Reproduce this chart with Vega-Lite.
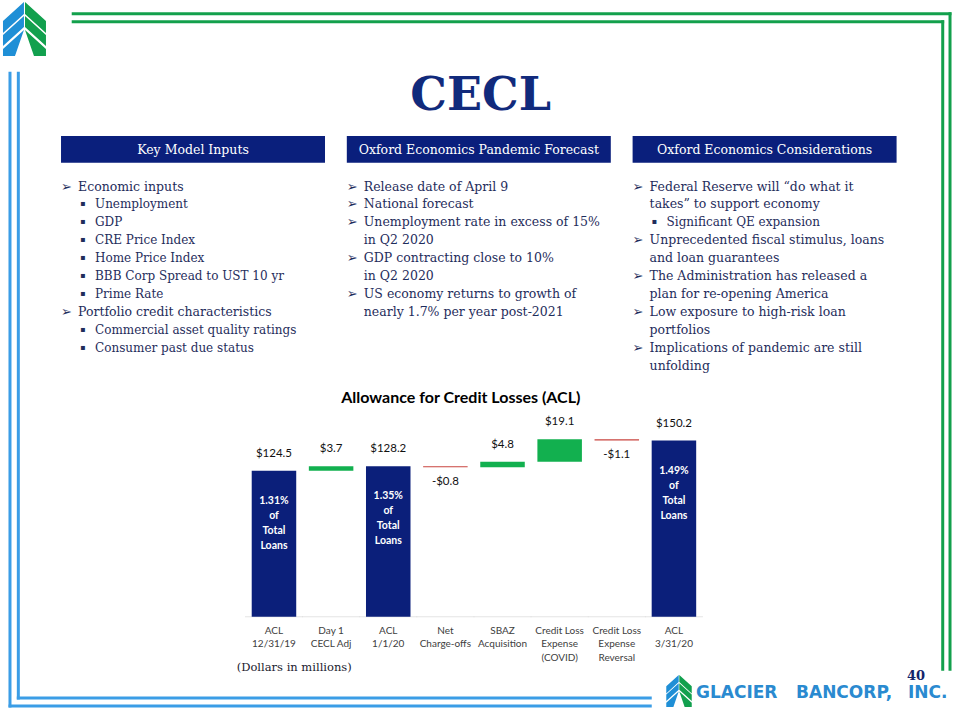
{
  "$schema": "https://vega.github.io/schema/vega-lite/v6.json",
  "width": 960,
  "height": 720,
  "autosize": {"type": "fit", "contains": "padding"},
  "padding": 0,
  "background": "white",
  "config": {"view": {"stroke": null}},
  "datasets": {
    "panels": [
      {"panel": "Key Model Inputs"},
      {"panel": "Oxford Economics Pandemic Forecast"},
      {"panel": "Oxford Economics Considerations"}
    ],
    "bullets": [
      {"panel": "Key Model Inputs", "line": 0, "level": 1, "bullet": "➢", "text": "Economic inputs"},
      {"panel": "Key Model Inputs", "line": 1, "level": 2, "bullet": "▪", "text": "Unemployment"},
      {"panel": "Key Model Inputs", "line": 2, "level": 2, "bullet": "▪", "text": "GDP"},
      {"panel": "Key Model Inputs", "line": 3, "level": 2, "bullet": "▪", "text": "CRE  Price Index"},
      {"panel": "Key Model Inputs", "line": 4, "level": 2, "bullet": "▪", "text": "Home Price Index"},
      {"panel": "Key Model Inputs", "line": 5, "level": 2, "bullet": "▪", "text": "BBB Corp Spread  to UST 10 yr"},
      {"panel": "Key Model Inputs", "line": 6, "level": 2, "bullet": "▪", "text": "Prime Rate"},
      {"panel": "Key Model Inputs", "line": 7, "level": 1, "bullet": "➢", "text": "Portfolio credit characteristics"},
      {"panel": "Key Model Inputs", "line": 8, "level": 2, "bullet": "▪", "text": "Commercial asset quality ratings"},
      {"panel": "Key Model Inputs", "line": 9, "level": 2, "bullet": "▪", "text": "Consumer past due status"},
      {"panel": "Oxford Economics Pandemic Forecast", "line": 0, "level": 1, "bullet": "➢", "text": "Release date of April 9"},
      {"panel": "Oxford Economics Pandemic Forecast", "line": 1, "level": 1, "bullet": "➢", "text": "National forecast"},
      {"panel": "Oxford Economics Pandemic Forecast", "line": 2, "level": 1, "bullet": "➢", "text": "Unemployment rate in excess of 15%"},
      {"panel": "Oxford Economics Pandemic Forecast", "line": 3, "level": 1, "bullet": "", "text": "in Q2 2020"},
      {"panel": "Oxford Economics Pandemic Forecast", "line": 4, "level": 1, "bullet": "➢", "text": "GDP contracting close to 10%"},
      {"panel": "Oxford Economics Pandemic Forecast", "line": 5, "level": 1, "bullet": "", "text": "in Q2 2020"},
      {"panel": "Oxford Economics Pandemic Forecast", "line": 6, "level": 1, "bullet": "➢", "text": "US economy returns to growth of"},
      {"panel": "Oxford Economics Pandemic Forecast", "line": 7, "level": 1, "bullet": "", "text": "nearly 1.7% per year post-2021"},
      {"panel": "Oxford Economics Considerations", "line": 0, "level": 1, "bullet": "➢", "text": "Federal Reserve will “do what it"},
      {"panel": "Oxford Economics Considerations", "line": 1, "level": 1, "bullet": "", "text": "takes” to support economy"},
      {"panel": "Oxford Economics Considerations", "line": 2, "level": 2, "bullet": "▪", "text": "Significant QE expansion"},
      {"panel": "Oxford Economics Considerations", "line": 3, "level": 1, "bullet": "➢", "text": "Unprecedented fiscal stimulus, loans"},
      {"panel": "Oxford Economics Considerations", "line": 4, "level": 1, "bullet": "", "text": "and loan guarantees"},
      {"panel": "Oxford Economics Considerations", "line": 5, "level": 1, "bullet": "➢", "text": "The Administration  has released  a"},
      {"panel": "Oxford Economics Considerations", "line": 6, "level": 1, "bullet": "", "text": "plan for re-opening America"},
      {"panel": "Oxford Economics Considerations", "line": 7, "level": 1, "bullet": "➢", "text": "Low exposure to high-risk loan"},
      {"panel": "Oxford Economics Considerations", "line": 8, "level": 1, "bullet": "", "text": "portfolios"},
      {"panel": "Oxford Economics Considerations", "line": 9, "level": 1, "bullet": "➢", "text": "Implications of pandemic are still"},
      {"panel": "Oxford Economics Considerations", "line": 10, "level": 1, "bullet": "", "text": "unfolding"}
    ],
    "acl": [
      {"category": "ACL|12/31/19", "kind": "Total", "start": 0, "end": 124.5, "label": "$124.5", "note": "1.31%\nof\nTotal\nLoans"},
      {"category": "Day 1|CECL Adj", "kind": "Increase", "start": 124.5, "end": 128.2, "label": "$3.7", "note": ""},
      {"category": "ACL|1/1/20", "kind": "Total", "start": 0, "end": 128.2, "label": "$128.2", "note": "1.35%\nof\nTotal\nLoans"},
      {"category": "Net|Charge-offs", "kind": "Decrease", "start": 128.2, "end": 127.4, "label": "-$0.8", "note": ""},
      {"category": "SBAZ|Acquisition", "kind": "Increase", "start": 127.4, "end": 132.2, "label": "$4.8", "note": ""},
      {"category": "Credit Loss|Expense|(COVID)", "kind": "Increase", "start": 132.2, "end": 151.3, "label": "$19.1", "note": ""},
      {"category": "Credit Loss|Expense|Reversal", "kind": "Decrease", "start": 151.3, "end": 150.2, "label": "-$1.1", "note": ""},
      {"category": "ACL|3/31/20", "kind": "Total", "start": 0, "end": 150.2, "label": "$150.2", "note": "1.49%\nof\nTotal\nLoans"}
    ]
  },
  "resolve": {"scale": {"x": "independent", "y": "independent"}},
  "layer": [
    {
      "data": {"values": [{}]},
      "layer": [
        {"mark": {"type": "rule", "color": "#13a04c", "strokeWidth": 3},
         "encoding": {"x": {"datum": 0.747, "type": "quantitative", "scale": {"domain": [0, 10], "nice": false, "zero": false}, "axis": null}, "x2": {"datum": 9.911},
                      "y": {"datum": 0.144, "type": "quantitative", "scale": {"domain": [0, 7.5], "nice": false, "zero": false, "reverse": true}, "axis": null}}},
        {"mark": {"type": "rule", "color": "#13a04c", "strokeWidth": 3},
         "encoding": {"x": {"datum": 0.747, "type": "quantitative", "scale": {"domain": [0, 10], "nice": false, "zero": false}, "axis": null}, "x2": {"datum": 9.835},
                      "y": {"datum": 0.227, "type": "quantitative", "scale": {"domain": [0, 7.5], "nice": false, "zero": false, "reverse": true}, "axis": null}}},
        {"mark": {"type": "rule", "color": "#13a04c", "strokeWidth": 3},
         "encoding": {"x": {"datum": 9.896, "type": "quantitative", "scale": {"domain": [0, 10], "nice": false, "zero": false}, "axis": null},
                      "y": {"datum": 0.128, "type": "quantitative", "scale": {"domain": [0, 7.5], "nice": false, "zero": false, "reverse": true}, "axis": null}, "y2": {"datum": 6.986}}},
        {"mark": {"type": "rule", "color": "#13a04c", "strokeWidth": 3},
         "encoding": {"x": {"datum": 9.82, "type": "quantitative", "scale": {"domain": [0, 10], "nice": false, "zero": false}, "axis": null},
                      "y": {"datum": 0.211, "type": "quantitative", "scale": {"domain": [0, 7.5], "nice": false, "zero": false, "reverse": true}, "axis": null}, "y2": {"datum": 6.986}}},
        {"mark": {"type": "rule", "color": "#3b9de6", "strokeWidth": 3},
         "encoding": {"x": {"datum": 0.104, "type": "quantitative", "scale": {"domain": [0, 10], "nice": false, "zero": false}, "axis": null},
                      "y": {"datum": 0.747, "type": "quantitative", "scale": {"domain": [0, 7.5], "nice": false, "zero": false, "reverse": true}, "axis": null}, "y2": {"datum": 7.37}}},
        {"mark": {"type": "rule", "color": "#3b9de6", "strokeWidth": 3},
         "encoding": {"x": {"datum": 0.191, "type": "quantitative", "scale": {"domain": [0, 10], "nice": false, "zero": false}, "axis": null},
                      "y": {"datum": 0.747, "type": "quantitative", "scale": {"domain": [0, 7.5], "nice": false, "zero": false, "reverse": true}, "axis": null}, "y2": {"datum": 7.286}}},
        {"mark": {"type": "rule", "color": "#3b9de6", "strokeWidth": 3},
         "encoding": {"x": {"datum": 0.089, "type": "quantitative", "scale": {"domain": [0, 10], "nice": false, "zero": false}, "axis": null}, "x2": {"datum": 6.789},
                      "y": {"datum": 7.354, "type": "quantitative", "scale": {"domain": [0, 7.5], "nice": false, "zero": false, "reverse": true}, "axis": null}}},
        {"mark": {"type": "rule", "color": "#3b9de6", "strokeWidth": 3},
         "encoding": {"x": {"datum": 0.175, "type": "quantitative", "scale": {"domain": [0, 10], "nice": false, "zero": false}, "axis": null}, "x2": {"datum": 6.789},
                      "y": {"datum": 7.271, "type": "quantitative", "scale": {"domain": [0, 7.5], "nice": false, "zero": false, "reverse": true}, "axis": null}}},
        {"mark": {"type": "point", "shape": "M -0.019 -1 L -0.796 -0.296 L -0.796 0.148 L -0.019 -0.556 Z M -0.019 -0.481 L -0.796 0.222 L -0.796 0.63 L -0.019 -0.074 Z M -0.019 0.037 L -0.352 1 L -0.796 1 L -0.796 0.741 Z", "filled": true, "color": "#1f8fd6", "opacity": 1, "size": 2916, "strokeWidth": 0},
         "encoding": {"x": {"datum": 0.255, "type": "quantitative", "scale": {"domain": [0, 10], "nice": false, "zero": false}, "axis": null},
                      "y": {"datum": 0.302, "type": "quantitative", "scale": {"domain": [0, 7.5], "nice": false, "zero": false, "reverse": true}, "axis": null}}},
        {"mark": {"type": "point", "shape": "M 0.019 -1 L 0.796 -0.296 L 0.796 0.148 L 0.019 -0.556 Z M 0.019 -0.481 L 0.796 0.222 L 0.796 0.63 L 0.019 -0.074 Z M 0.019 0.037 L 0.352 1 L 0.796 1 L 0.796 0.741 Z", "filled": true, "color": "#12a04e", "opacity": 1, "size": 2916, "strokeWidth": 0},
         "encoding": {"x": {"datum": 0.255, "type": "quantitative", "scale": {"domain": [0, 10], "nice": false, "zero": false}, "axis": null},
                      "y": {"datum": 0.302, "type": "quantitative", "scale": {"domain": [0, 7.5], "nice": false, "zero": false, "reverse": true}, "axis": null}}},
        {"mark": {"type": "point", "shape": "M -0.019 -1 L -0.796 -0.296 L -0.796 0.148 L -0.019 -0.556 Z M -0.019 -0.481 L -0.796 0.222 L -0.796 0.63 L -0.019 -0.074 Z M -0.019 0.037 L -0.352 1 L -0.796 1 L -0.796 0.741 Z", "filled": true, "color": "#1f8fd6", "opacity": 1, "size": 1024, "strokeWidth": 0},
         "encoding": {"x": {"datum": 7.073, "type": "quantitative", "scale": {"domain": [0, 10], "nice": false, "zero": false}, "axis": null},
                      "y": {"datum": 7.198, "type": "quantitative", "scale": {"domain": [0, 7.5], "nice": false, "zero": false, "reverse": true}, "axis": null}}},
        {"mark": {"type": "point", "shape": "M 0.019 -1 L 0.796 -0.296 L 0.796 0.148 L 0.019 -0.556 Z M 0.019 -0.481 L 0.796 0.222 L 0.796 0.63 L 0.019 -0.074 Z M 0.019 0.037 L 0.352 1 L 0.796 1 L 0.796 0.741 Z", "filled": true, "color": "#12a04e", "opacity": 1, "size": 1024, "strokeWidth": 0},
         "encoding": {"x": {"datum": 7.073, "type": "quantitative", "scale": {"domain": [0, 10], "nice": false, "zero": false}, "axis": null},
                      "y": {"datum": 7.198, "type": "quantitative", "scale": {"domain": [0, 7.5], "nice": false, "zero": false, "reverse": true}, "axis": null}}},
        {"mark": {"type": "text", "text": "CECL", "font": "DejaVu Serif", "fontWeight": "bold", "fontSize": 46, "color": "#112a7c", "align": "center", "baseline": "alphabetic"},
         "encoding": {"x": {"datum": 5.007, "type": "quantitative", "scale": {"domain": [0, 10], "nice": false, "zero": false}, "axis": null},
                      "y": {"datum": 1.146, "type": "quantitative", "scale": {"domain": [0, 7.5], "nice": false, "zero": false, "reverse": true}, "axis": null}}},
        {"mark": {"type": "text", "text": "Allowance for Credit Losses (ACL)", "font": "Lato", "fontWeight": "bold", "fontSize": 16, "color": "#000000", "align": "center", "baseline": "alphabetic"},
         "encoding": {"x": {"datum": 4.8, "type": "quantitative", "scale": {"domain": [0, 10], "nice": false, "zero": false}, "axis": null},
                      "y": {"datum": 4.193, "type": "quantitative", "scale": {"domain": [0, 7.5], "nice": false, "zero": false, "reverse": true}, "axis": null}}},
        {"mark": {"type": "text", "text": "(Dollars in millions)", "font": "DejaVu Serif", "fontSize": 11.5, "color": "#1a1a2e", "align": "left", "baseline": "middle"},
         "encoding": {"x": {"datum": 2.466, "type": "quantitative", "scale": {"domain": [0, 10], "nice": false, "zero": false}, "axis": null},
                      "y": {"datum": 6.961, "type": "quantitative", "scale": {"domain": [0, 7.5], "nice": false, "zero": false, "reverse": true}, "axis": null}}},
        {"mark": {"type": "text", "text": "40", "font": "DejaVu Serif", "fontWeight": "bold", "fontSize": 13, "color": "#14246b", "align": "center", "baseline": "middle"},
         "encoding": {"x": {"datum": 9.542, "type": "quantitative", "scale": {"domain": [0, 10], "nice": false, "zero": false}, "axis": null},
                      "y": {"datum": 7.042, "type": "quantitative", "scale": {"domain": [0, 7.5], "nice": false, "zero": false, "reverse": true}, "axis": null}}},
        {"mark": {"type": "text", "text": "GLACIER", "font": "DejaVu Sans", "fontWeight": "bold", "fontSize": 17, "color": "#2a8ad0", "align": "left", "baseline": "middle"},
         "encoding": {"x": {"datum": 7.25, "type": "quantitative", "scale": {"domain": [0, 10], "nice": false, "zero": false}, "axis": null},
                      "y": {"datum": 7.219, "type": "quantitative", "scale": {"domain": [0, 7.5], "nice": false, "zero": false, "reverse": true}, "axis": null}}},
        {"mark": {"type": "text", "text": "BANCORP,", "font": "DejaVu Sans", "fontWeight": "bold", "fontSize": 17, "color": "#2a8ad0", "align": "left", "baseline": "middle"},
         "encoding": {"x": {"datum": 8.292, "type": "quantitative", "scale": {"domain": [0, 10], "nice": false, "zero": false}, "axis": null},
                      "y": {"datum": 7.219, "type": "quantitative", "scale": {"domain": [0, 7.5], "nice": false, "zero": false, "reverse": true}, "axis": null}}},
        {"mark": {"type": "text", "text": "INC.", "font": "DejaVu Sans", "fontWeight": "bold", "fontSize": 17, "color": "#2a8ad0", "align": "left", "baseline": "middle"},
         "encoding": {"x": {"datum": 9.458, "type": "quantitative", "scale": {"domain": [0, 10], "nice": false, "zero": false}, "axis": null},
                      "y": {"datum": 7.219, "type": "quantitative", "scale": {"domain": [0, 7.5], "nice": false, "zero": false, "reverse": true}, "axis": null}}}
      ]
    },
    {
      "data": {"name": "bullets"},
      "layer": [
        {"data": {"name": "panels"},
         "mark": {"type": "rect", "color": "#0a1f7c"},
         "encoding": {
           "x": {"field": "panel", "type": "nominal", "scale": {"domain": ["Key Model Inputs", "Oxford Economics Pandemic Forecast", "Oxford Economics Considerations"], "paddingInner": 0.0763, "paddingOuter": 0.2177, "align": 0.4904}, "axis": null},
           "y": {"datum": -2.821, "type": "quantitative", "scale": {"domain": [-10.419, 29.804], "nice": false, "zero": false, "reverse": true}, "axis": null},
           "y2": {"datum": -1.33}}},
        {"data": {"name": "panels"},
         "mark": {"type": "text", "color": "#ffffff", "font": "DejaVu Serif", "fontSize": 12.5, "align": "center", "baseline": "middle"},
         "encoding": {
           "x": {"field": "panel", "type": "nominal", "scale": {"domain": ["Key Model Inputs", "Oxford Economics Pandemic Forecast", "Oxford Economics Considerations"], "paddingInner": 0.0763, "paddingOuter": 0.2177, "align": 0.4904}, "axis": null},
           "y": {"datum": -2.067, "type": "quantitative", "scale": {"domain": [-10.419, 29.804], "nice": false, "zero": false, "reverse": true}, "axis": null},
           "text": {"field": "panel"}}},
        {"transform": [{"filter": "datum.level == 1"}],
         "mark": {"type": "text", "color": "#1f2d5c", "font": "DejaVu Sans", "fontWeight": "bold", "fontSize": 13, "align": "left", "baseline": "middle", "dx": 0},
         "encoding": {
           "x": {"field": "panel", "type": "nominal", "bandPosition": 0, "scale": {"domain": ["Key Model Inputs", "Oxford Economics Pandemic Forecast", "Oxford Economics Considerations"], "paddingInner": 0.0763, "paddingOuter": 0.2177, "align": 0.4904}, "axis": null},
           "y": {"field": "line", "type": "quantitative", "scale": {"domain": [-10.419, 29.804], "nice": false, "zero": false, "reverse": true}, "axis": null},
           "text": {"field": "bullet"}}},
        {"transform": [{"filter": "datum.level == 1"}],
         "mark": {"type": "text", "color": "#1f2d5c", "font": "DejaVu Serif", "fontSize": 12.5, "align": "left", "baseline": "middle", "dx": 17},
         "encoding": {
           "x": {"field": "panel", "type": "nominal", "bandPosition": 0, "scale": {"domain": ["Key Model Inputs", "Oxford Economics Pandemic Forecast", "Oxford Economics Considerations"], "paddingInner": 0.0763, "paddingOuter": 0.2177, "align": 0.4904}, "axis": null},
           "y": {"field": "line", "type": "quantitative", "scale": {"domain": [-10.419, 29.804], "nice": false, "zero": false, "reverse": true}, "axis": null},
           "text": {"field": "text"}}},
        {"transform": [{"filter": "datum.level == 2"}],
         "mark": {"type": "text", "color": "#1f2d5c", "font": "DejaVu Sans", "fontSize": 8, "align": "left", "baseline": "middle", "dx": 19},
         "encoding": {
           "x": {"field": "panel", "type": "nominal", "bandPosition": 0, "scale": {"domain": ["Key Model Inputs", "Oxford Economics Pandemic Forecast", "Oxford Economics Considerations"], "paddingInner": 0.0763, "paddingOuter": 0.2177, "align": 0.4904}, "axis": null},
           "y": {"field": "line", "type": "quantitative", "scale": {"domain": [-10.419, 29.804], "nice": false, "zero": false, "reverse": true}, "axis": null},
           "text": {"field": "bullet"}}},
        {"transform": [{"filter": "datum.level == 2"}],
         "mark": {"type": "text", "color": "#1f2d5c", "font": "DejaVu Serif", "fontSize": 12, "align": "left", "baseline": "middle", "dx": 34},
         "encoding": {
           "x": {"field": "panel", "type": "nominal", "bandPosition": 0, "scale": {"domain": ["Key Model Inputs", "Oxford Economics Pandemic Forecast", "Oxford Economics Considerations"], "paddingInner": 0.0763, "paddingOuter": 0.2177, "align": 0.4904}, "axis": null},
           "y": {"field": "line", "type": "quantitative", "scale": {"domain": [-10.419, 29.804], "nice": false, "zero": false, "reverse": true}, "axis": null},
           "text": {"field": "text"}}}
      ]
    },
    {
      "data": {"name": "acl"},
      "layer": [
        {"mark": {"type": "tick", "color": "#d9d9d9", "thickness": 1, "size": 58, "orient": "horizontal"},
         "encoding": {
           "x": {"field": "category", "type": "nominal", "scale": {"domain": ["ACL|12/31/19", "Day 1|CECL Adj", "ACL|1/1/20", "Net|Charge-offs", "SBAZ|Acquisition", "Credit Loss|Expense|(COVID)", "Credit Loss|Expense|Reversal", "ACL|3/31/20"], "range": [245.4, 702.5], "paddingInner": 0.221, "paddingOuter": 0.1105}, "axis": null},
           "y": {"datum": 0, "type": "quantitative", "scale": {"domain": [-88.06, 525.8], "nice": false, "zero": false}, "axis": null}}},
        {"mark": {"type": "bar"},
         "encoding": {
           "x": {"field": "category", "type": "nominal", "scale": {"domain": ["ACL|12/31/19", "Day 1|CECL Adj", "ACL|1/1/20", "Net|Charge-offs", "SBAZ|Acquisition", "Credit Loss|Expense|(COVID)", "Credit Loss|Expense|Reversal", "ACL|3/31/20"], "range": [245.4, 702.5], "paddingInner": 0.221, "paddingOuter": 0.1105}, "axis": null},
           "y": {"field": "start", "type": "quantitative", "scale": {"domain": [-88.06, 525.8], "nice": false, "zero": false}, "axis": null},
           "y2": {"field": "end"},
           "color": {"field": "kind", "type": "nominal", "scale": {"domain": ["Total", "Increase", "Decrease"], "range": ["#0b1f7a", "#12b04f", "#c9453f"]}, "legend": null}}},
        {"mark": {"type": "text", "font": "Lato", "fontSize": 10, "color": "#404040", "align": "center", "baseline": "top", "lineBreak": "|", "lineHeight": 13.5, "dy": 9},
         "encoding": {
           "x": {"field": "category", "type": "nominal", "scale": {"domain": ["ACL|12/31/19", "Day 1|CECL Adj", "ACL|1/1/20", "Net|Charge-offs", "SBAZ|Acquisition", "Credit Loss|Expense|(COVID)", "Credit Loss|Expense|Reversal", "ACL|3/31/20"], "range": [245.4, 702.5], "paddingInner": 0.221, "paddingOuter": 0.1105}, "axis": null},
           "y": {"datum": 0, "type": "quantitative", "scale": {"domain": [-88.06, 525.8], "nice": false, "zero": false}, "axis": null},
           "text": {"field": "category"}}},
        {"transform": [{"filter": "datum.kind != 'Decrease'"}],
         "mark": {"type": "text", "font": "Lato", "fontSize": 11.5, "color": "#111111", "align": "center", "baseline": "middle", "dy": -17},
         "encoding": {
           "x": {"field": "category", "type": "nominal", "scale": {"domain": ["ACL|12/31/19", "Day 1|CECL Adj", "ACL|1/1/20", "Net|Charge-offs", "SBAZ|Acquisition", "Credit Loss|Expense|(COVID)", "Credit Loss|Expense|Reversal", "ACL|3/31/20"], "range": [245.4, 702.5], "paddingInner": 0.221, "paddingOuter": 0.1105}, "axis": null},
           "y": {"field": "end", "type": "quantitative", "scale": {"domain": [-88.06, 525.8], "nice": false, "zero": false}, "axis": null},
           "text": {"field": "label"}}},
        {"transform": [{"filter": "datum.kind == 'Decrease'"}],
         "mark": {"type": "text", "font": "Lato", "fontSize": 11.5, "color": "#111111", "align": "center", "baseline": "middle", "dy": 14.5},
         "encoding": {
           "x": {"field": "category", "type": "nominal", "scale": {"domain": ["ACL|12/31/19", "Day 1|CECL Adj", "ACL|1/1/20", "Net|Charge-offs", "SBAZ|Acquisition", "Credit Loss|Expense|(COVID)", "Credit Loss|Expense|Reversal", "ACL|3/31/20"], "range": [245.4, 702.5], "paddingInner": 0.221, "paddingOuter": 0.1105}, "axis": null},
           "y": {"field": "end", "type": "quantitative", "scale": {"domain": [-88.06, 525.8], "nice": false, "zero": false}, "axis": null},
           "text": {"field": "label"}}},
        {"transform": [{"filter": "datum.kind == 'Total'"}],
         "mark": {"type": "text", "font": "Lato", "fontSize": 10.5, "fontWeight": "bold", "color": "#ffffff", "align": "center", "baseline": "top", "lineBreak": "\n", "lineHeight": 15, "dy": 25},
         "encoding": {
           "x": {"field": "category", "type": "nominal", "scale": {"domain": ["ACL|12/31/19", "Day 1|CECL Adj", "ACL|1/1/20", "Net|Charge-offs", "SBAZ|Acquisition", "Credit Loss|Expense|(COVID)", "Credit Loss|Expense|Reversal", "ACL|3/31/20"], "range": [245.4, 702.5], "paddingInner": 0.221, "paddingOuter": 0.1105}, "axis": null},
           "y": {"field": "end", "type": "quantitative", "scale": {"domain": [-88.06, 525.8], "nice": false, "zero": false}, "axis": null},
           "text": {"field": "note"}}}
      ]
    }
  ]
}
